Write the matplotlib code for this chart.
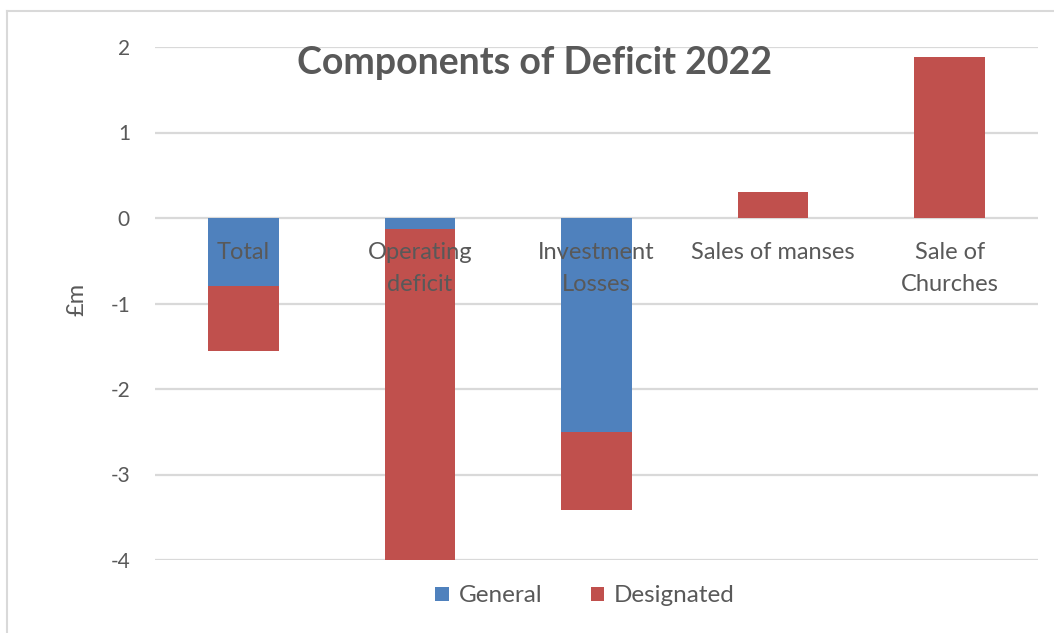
import matplotlib
matplotlib.use("Agg")
import matplotlib.pyplot as plt
from matplotlib.lines import Line2D
from matplotlib.patches import Patch
import numpy as np

categories = ["Total", "Operating\ndeficit", "Investment\nLosses", "Sales of manses", "Sale of\nChurches"]
general = [-0.80, -0.13, -2.50, 0.0, 0.0]
designated = [-0.75, -3.87, -0.91, 0.30, 1.88]
yticks = [2, 1, 0, -1, -2, -3, -4]

BLUE = "#4F81BD"
RED = "#C0504D"
GRAY = "#595959"
GRID = "#D9D9D9"

plt.rcParams['font.family'] = ['Lato', 'DejaVu Sans']

fig = plt.figure(figsize=(10.54, 6.33), dpi=100)
ax = fig.add_axes([155/1054, 73/633, 883/1054, 513/633])

x = np.arange(len(categories))
g = np.array(general)
d = np.array(designated)
bottom_d = np.where(np.sign(d) == np.sign(g), g, 0.0)
ax.bar(x, g, width=0.4, color=BLUE, zorder=2)
ax.bar(x, d, width=0.4, bottom=bottom_d, color=RED, zorder=2)

ax.set_xlim(-0.5, len(categories) - 0.5)
ax.set_ylim(-4, 2)
ax.set_yticks(yticks)
ax.set_yticklabels([str(t) for t in yticks])
ax.tick_params(axis='y', length=0, pad=18, labelsize=15, labelcolor=GRAY)
ax.set_xticks([])
for s in ax.spines.values():
    s.set_visible(False)
ax.yaxis.grid(True, color=GRID, linewidth=1.6, zorder=0)
ax.set_axisbelow(True)

for xi, lab in zip(x, categories):
    ax.annotate(lab, xy=(xi, 0), xytext=(0, -17), textcoords='offset points',
                ha='center', va='top', fontsize=17, color=GRAY,
                linespacing=1.65, zorder=5)

ax.set_ylabel("£m", fontsize=17, color=GRAY)
ax.yaxis.set_label_coords(-0.076, 0.507)

fig.text(535/1054, 1 - 63/633, "Components of Deficit 2022", ha='center', va='center',
         fontsize=27, fontweight='bold', color=GRAY)

handles = [Patch(facecolor=BLUE, label="General"), Patch(facecolor=RED, label="Designated")]
fig.legend(handles=handles, loc='center', bbox_to_anchor=(585/1054, 1 - 596/633), ncol=2,
           frameon=False, fontsize=17.5, labelcolor=GRAY, handlelength=0.55, handleheight=0.55,
           columnspacing=2.0, handletextpad=0.4)

fig.add_artist(Line2D([7/1054, 7/1054], [0, 1 - 11/633], color=GRID, linewidth=1.5, transform=fig.transFigure))
fig.add_artist(Line2D([7/1054, 1], [1 - 11/633, 1 - 11/633], color=GRID, linewidth=1.5, transform=fig.transFigure))

fig.savefig("out.png", dpi=100)
